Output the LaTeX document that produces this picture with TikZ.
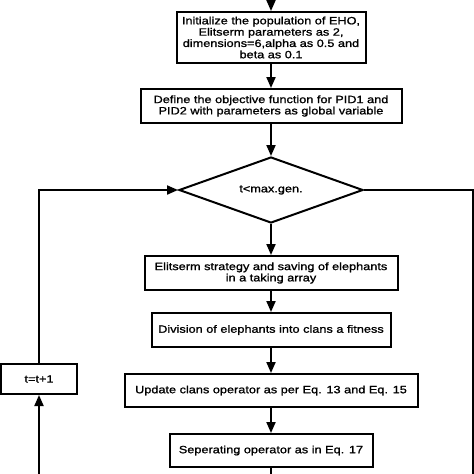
\documentclass[tikz,border=0pt]{standalone}
\usepackage{fontspec}
\setmainfont{Liberation Sans}[FakeStretch=1.2, FakeBold=1.2]
\usetikzlibrary{arrows.meta, shapes.geometric, positioning}

\begin{document}
\begin{tikzpicture}[x=1pt,y=1pt,>={Triangle[length=11pt,width=9pt]},line width=2pt,node distance=24pt,
  block/.style={draw, align=center, inner sep=0pt, minimum height=34pt, font=\fontsize{10.6}{11.3}\selectfont},
  decide/.style={draw, diamond, aspect=2.8, inner sep=0pt, minimum width=184pt, minimum height=66pt, font=\fontsize{10.6}{11.3}\selectfont}]
\useasboundingbox (0,0) rectangle (474,-474);

% define the steps of the loop
  \node[block, minimum width=189pt, minimum height=51pt] (init) at (271,-37.5)
{Initialize the population of EHO,\\Elitserm parameters as 2,\\dimensions=6,alpha as 0.5 and\\beta as 0.1};
  \node[block, minimum width=261pt] (obj) [below=of init]
{Define the objective function for PID1 and\\PID2 with parameters as global variable};
  \node[decide] (check) [below=32pt of obj] {t<max.gen.};
  \node[block, minimum width=253pt] (elite) [below=31pt of check]
{Elitserm strategy and saving of elephants\\in a taking array};
  \node[block, minimum width=239pt] (clans) [below=21pt of elite] {Division of elephants into clans a fitness};
  \node[block, minimum width=293pt, minimum height=33pt] (update) [below=25pt of clans] {Update clans operator as per Eq. 13 and Eq. 15};
  \node[block, minimum width=203pt, minimum height=33pt] (sep) [below=25pt of update] {Seperating operator as in Eq. 17};
  \node[block, minimum width=76pt, minimum height=30pt] (incr) at (39,-379) {t=t+1};

% loose ends outside the picture
  \coordinate (top) at (271,8);
  \coordinate (down) at (271,-490);
  \coordinate (back) at (39,-490);
  \coordinate (out) at (473,-490);

% define the links
  \draw[->] (top) -- (init);
  \draw[->] (init) -- (obj);
  \draw[->] (obj) -- (check);
  \draw[->] (check) -- (elite);
  \draw[->] (elite) -- (clans);
  \draw[->] (clans) -- (update);
  \draw[->] (update) -- (sep);
  \draw[->] (sep) -- (down);
  \draw[->] (incr.north) |- (check.west);
  \draw[->] (back) -- (incr);
  \draw (check.east) -| (out);
\end{tikzpicture}
\end{document}
